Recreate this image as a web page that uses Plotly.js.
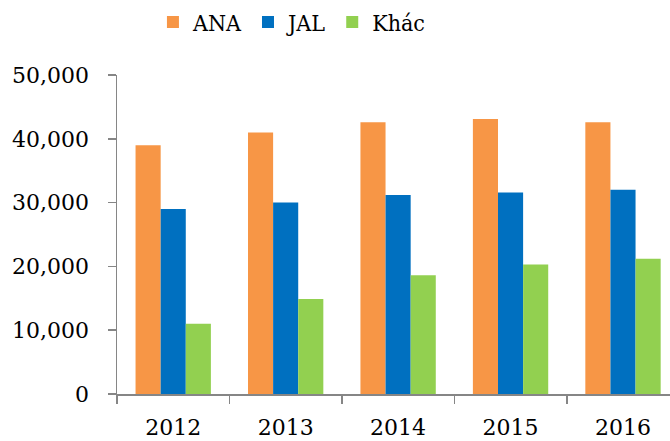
<!DOCTYPE html>
<html>
<head>
<meta charset="utf-8">
<script src="https://cdn.plot.ly/plotly-3.0.1.min.js"></script>
<style>html,body{margin:0;padding:0;background:#fff;}#chart{width:670px;height:441px;}</style>
</head>
<body>
<div id="chart"></div>
<script>
var years = ["2012", "2013", "2014", "2015", "2016"];
var seriesNames = ["ANA", "JAL", "Khác"];
var anaValues = [39000, 41000, 42600, 43100, 42600];
var jalValues = [29000, 30000, 31200, 31600, 32000];
var khacValues = [11000, 14900, 18600, 20300, 21200];
var colors = ["#F79646", "#0070C0", "#92D050"];

var allValues = [anaValues, jalValues, khacValues];
var traces = allValues.map(function (vals, i) {
  return {
    type: "bar",
    name: seriesNames[i],
    x: years,
    y: vals,
    marker: { color: colors[i], line: { width: 0 } },
    hoverinfo: "x+y+name"
  };
});

var fontFamily = "DejaVu Serif, serif";
var legendFamily = "DejaVu Serif Condensed, DejaVu Serif, serif";
var layout = {
  width: 670,
  height: 441,
  margin: { l: 117, r: 0, t: 75, b: 47, pad: 0, autoexpand: false },
  paper_bgcolor: "#ffffff",
  plot_bgcolor: "#ffffff",
  barmode: "group",
  bargap: 0.33,
  bargroupgap: 0,
  font: { family: fontFamily, color: "#000000", size: 22 },
  showlegend: true,
  legend: {
    orientation: "h",
    x: 0.065,
    xanchor: "left",
    y: 1.166,
    yanchor: "middle",
    font: { family: legendFamily, size: 23, color: "#000000" },
    itemwidth: 30,
    tracegroupgap: 0
  },
  xaxis: {
    type: "category",
    range: [-0.5, 4.418],
    showline: true,
    linecolor: "#868686",
    linewidth: 1.5,
    ticks: "outside",
    tickson: "boundaries",
    ticklen: 8,
    tickcolor: "#868686",
    tickwidth: 1.5,
    showgrid: false,
    zeroline: false,
    automargin: false,
    ticklabelstandoff: 13,
    tickfont: { family: fontFamily, size: 22, color: "#000000" }
  },
  yaxis: {
    range: [0, 50000],
    tickvals: [0, 10000, 20000, 30000, 40000, 50000],
    tickformat: ",",
    showline: true,
    linecolor: "#868686",
    linewidth: 1.5,
    ticks: "outside",
    ticklen: 8,
    tickcolor: "#868686",
    tickwidth: 1.5,
    showgrid: false,
    zeroline: false,
    automargin: false,
    ticklabelstandoff: 14,
    tickfont: { family: fontFamily, size: 22, color: "#000000" }
  }
};

Plotly.newPlot("chart", traces, layout, { displayModeBar: false, staticPlot: true });
</script>
</body>
</html>
